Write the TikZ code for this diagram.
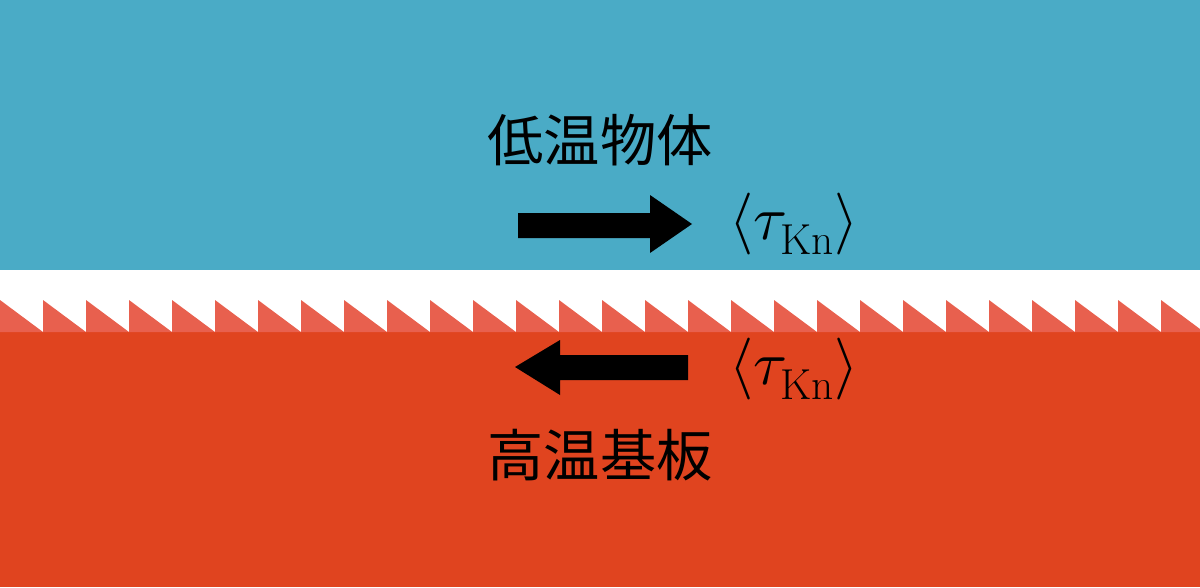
\documentclass[tikz,border=0pt]{standalone}
\usepackage{unicode-math}
\setmathfont{Latin Modern Math}
\newfontfamily\cjk{Noto Sans CJK JP}
\definecolor{cold}{HTML}{4AABC6}
\definecolor{hot}{HTML}{E0441F}
\definecolor{tooth}{HTML}{E8604E}
\begin{document}
\begin{tikzpicture}[x=0.025cm,y=-0.025cm,
  lbl/.style={font=\cjk\fontsize{40}{44}\selectfont},
  tau/.style={font=\fontsize{44}{48}\selectfont}]
\useasboundingbox (0,0) rectangle (1200,587);
\fill[cold] (0,0) rectangle (1200,270);
\fill[hot] (0,332) rectangle (1200,587);
\foreach \i in {0,...,28}{
  \fill[tooth] (\i*43,332) -- (\i*43,300) -- (\i*43+43,332) -- cycle;
}
\fill[black] (518,213) -- (650,213) -- (650,195) -- (692,224) -- (650,253) -- (650,238) -- (518,238) -- cycle;
\fill[black] (688,355) -- (560,355) -- (560,340) -- (515,367) -- (560,395) -- (560,380) -- (688,380) -- cycle;
\node[lbl] (cold) at (600,140) {低温物体};
\node[lbl] (hot) at (600,455) {高温基板};
\node[tau] (t1) at (794,224) {$\langle\tau_{\mathrm{Kn}}\rangle$};
\node[tau] (t2) at (794,369) {$\langle\tau_{\mathrm{Kn}}\rangle$};
\end{tikzpicture}
\end{document}
